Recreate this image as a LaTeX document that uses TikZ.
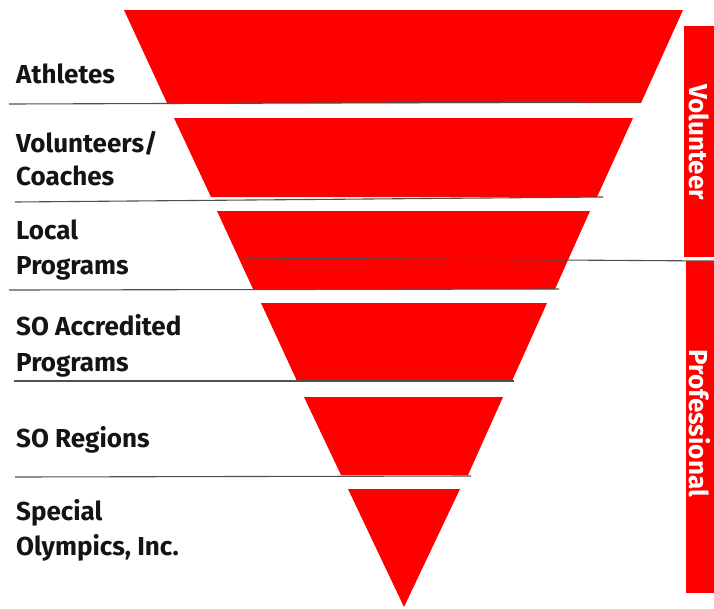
\documentclass[tikz,border=0pt]{standalone}
\usepackage{fontspec}
\setmainfont{Fira Sans}
\begin{document}
\begin{tikzpicture}[x=1pt,y=-1pt,
  band/.style={fill={rgb,255:red,255;green,0;blue,0}, draw=none},
  sep/.style={draw={rgb,255:red,80;green,80;blue,80}, line width=1.1pt},
  lab/.style={anchor=base west, inner sep=0pt, font=\bfseries\fontsize{26}{30}\selectfont, text={rgb,255:red,20;green,20;blue,20}},
  sidebox/.style={fill={rgb,255:red,255;green,0;blue,0}, draw=none},
  sidetext/.style={rotate=-90, inner sep=0pt, text=white, font=\bfseries\fontsize{26}{30}\selectfont}]
\useasboundingbox (0,0) rectangle (714,608);
% funnel bands
\fill[band] (124,10) -- (683,10) -- (641,103) -- (167,103) -- cycle;
\fill[band] (174,118) -- (633,118) -- (597,197) -- (211,197) -- cycle;
\fill[band] (217,211) -- (590,211) -- (555,289) -- (253,289) -- cycle;
\fill[band] (261,303) -- (547,303) -- (512,381) -- (297,381) -- cycle;
\fill[band] (304,397) -- (503,397) -- (468,475) -- (341,475) -- cycle;
\fill[band] (348,489) -- (460,489) -- (404,607) -- cycle;
% side boxes
\fill[sidebox] (684,26) rectangle (714,257);
\fill[sidebox] (686,261) rectangle (714,593);
\node[sidetext] (vol) at (699,142) {Volunteer};
\node[sidetext] (pro) at (700,423) {Professional};
% separator lines
\coordinate (s1a) at (9,104);   \coordinate (s1b) at (641,102);
\coordinate (s2a) at (15,202);  \coordinate (s2b) at (603,197);
\coordinate (s3a) at (9,290);   \coordinate (s3b) at (559,289);
\coordinate (s4a) at (14,381);  \coordinate (s4b) at (514,381);
\coordinate (s5a) at (15,477);  \coordinate (s5b) at (471,476);
\coordinate (s6a) at (245,258); \coordinate (s6b) at (714,261);
\draw[sep] (s1a) -- (s1b);
\draw[sep] (s2a) -- (s2b);
\draw[sep] (s3a) -- (s3b);
\draw[sep] (s4a) -- (s4b);
\draw[sep] (s5a) -- (s5b);
\draw[sep] (s6a) -- (s6b);
% labels
\node[lab] (l1) at (16,83) {Athletes};
\node[lab] (l2a) at (16,152) {Volunteers/};
\node[lab] (l2b) at (16,185) {Coaches};
\node[lab] (l3a) at (16,239) {Local};
\node[lab] (l3b) at (16,274) {Programs};
\node[lab] (l4a) at (16,335) {SO Accredited};
\node[lab] (l4b) at (16,371) {Programs};
\node[lab] (l5) at (16,447) {SO Regions};
\node[lab] (l6a) at (16,520) {Special};
\node[lab] (l6b) at (16,555) {Olympics, Inc.};
\end{tikzpicture}
\end{document}
